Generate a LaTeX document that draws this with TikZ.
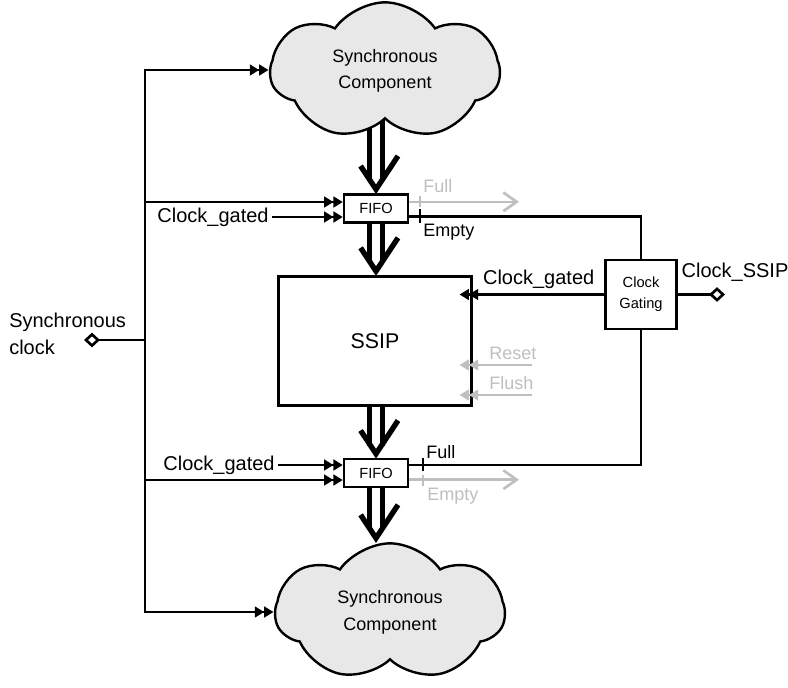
\documentclass[tikz,border=0pt]{standalone}
\usepackage{fontspec}
\setmainfont{Liberation Sans}
\usetikzlibrary{arrows.meta,shapes.symbols,backgrounds,decorations.markings}

\tikzset{
  wire/.style={line width=2pt,line cap=rect},
  clk/.style={wire,-{Triangle[length=7pt,width=8pt]Triangle[length=7pt,width=8pt]}},
  pin/.style={wire,-{Diamond[open,length=12pt,width=11pt]}},
  sigwire/.style={line width=2pt,gray!50},
  sigarrow/.style={sigwire,-{Straight Barb[length=10pt,width=14pt]}},
  sigclk/.style={sigwire,shorten >=-10pt,-{Triangle[length=7pt,width=8pt]Triangle[length=7pt,width=8pt]}},
  % wide data bus: double line closed by an open chevron
  bus/.style={double,line width=3.6pt,double distance=6pt,shorten >=9pt,
    postaction={decorate,decoration={markings,mark=at position 1 with
      {\draw[line width=4pt] (-28pt,16.5pt) -- (-3pt,0pt) -- (-28pt,-16.5pt);}}}},
  block/.style={draw,line width=1.8pt,fill=white},
  fifo/.style={block,minimum width=48pt,minimum height=21pt,font=\fontsize{11}{13}\selectfont},
  comp/.style={cloud,cloud puffs=7,cloud puff arc=110,aspect=1.7,draw,line width=1.8pt,
    fill=gray!18,minimum width=172pt,minimum height=103pt,align=center,
    font=\fontsize{13.5}{20}\selectfont},
  lbl/.style={font=\fontsize{15}{20}\selectfont},
  siglbl/.style={font=\fontsize{13.5}{16}\selectfont,inner sep=0pt,anchor=base west},
}

\begin{document}
\begin{tikzpicture}[x=0.75pt,y=0.75pt]
  \useasboundingbox (0,0) rectangle (788,-687);

  % Blocks
  \node[comp] (compT) at (385,-71) {Synchronous\\Component};
  \node[comp] (compB) at (390,-612) {Synchronous\\Component};
  \node[fifo] (fifoT) at (376,-208.5) {FIFO};
  \node[fifo] (fifoB) at (376,-473) {FIFO};
  \node[block,minimum width=145pt,minimum height=97pt,font=\fontsize{16}{19}\selectfont] (ssip) at (375,-341) {SSIP};
  \node[block,minimum width=53pt,minimum height=52pt,align=center,font=\fontsize{11}{15.5}\selectfont] (gate) at (641,-294.5) {Clock\\Gating};

  % Data path
  \begin{scope}[on background layer]
    \draw[bus] (fifoT.north |- compT.center) -- (fifoT.north);
    \draw[bus] (fifoB.south) -- (fifoB.south |- compB.north);
  \end{scope}
  \draw[bus] (fifoT.south) -- (fifoT.south |- ssip.north);
  \draw[bus] (ssip.south -| fifoB.north) -- (fifoB.north);

  % Synchronous clock tree
  \coordinate (busT) at (145,-70);
  \coordinate (busB) at (145,-612);
  \coordinate (busIn) at (145,-340);
  \coordinate (busF1) at (145,-202);
  \coordinate (busF2) at (145,-480);
  \coordinate (sclk) at (84,-340);
  \node[lbl,align=left,anchor=north west,inner sep=0pt] (sclkLbl) at (9,-313) {Synchronous\\clock};
  \draw[wire] (busT) -- (busB);
  \draw[pin] (busIn) -- (sclk);
  \draw[clk] (busT) -- (busT -| compT.west);
  \draw[clk] (busB) -- (busB -| compB.west);
  \draw[clk] (busF1) -- (busF1 -| fifoT.west);
  \draw[clk] (busF2) -- (busF2 -| fifoB.west);
  \node[lbl] (cgT) at (213,-217) {Clock\_gated};
  \draw[clk] (cgT.east) -- (cgT.east -| fifoT.west);
  \node[lbl] (cgB) at (219,-465) {Clock\_gated};
  \draw[clk] (cgB.east) -- (cgB.east -| fifoB.west);

  % Clock gating
  \draw[clk,shorten >=-10pt] (gate.west) -- (gate.west -| ssip.east) node[lbl,midway,above] (cgS) {Clock\_gated};
  \coordinate (sclkS) at (725,-294.5);
  \draw[pin] (gate.east) -- (sclkS);
  \node[lbl] (sclkSLbl) at (735,-272) {Clock\_SSIP};
  \draw[wire] ([yshift=-6pt]fifoT.east) -| (gate.north);
  \draw[wire] ([yshift=6pt]fifoB.east) -| (gate.south);

  % Status flags
  \coordinate (flagR) at (519,0);
  \draw[sigarrow] ([yshift=5pt]fifoT.east) -- ([yshift=5pt]fifoT.east -| flagR);
  \draw[sigarrow] ([yshift=-5pt]fifoB.east) -- ([yshift=-5pt]fifoB.east -| flagR);
  \draw[sigwire,line width=1.5pt] (420,-196) -- (420,-207);
  \draw[wire,line width=1.5pt] (420,-210) -- (420,-222);
  \draw[wire,line width=1.5pt] (423,-459) -- (423,-470);
  \draw[sigwire,line width=1.5pt] (423,-475) -- (423,-486);
  \node[siglbl,gray!50] (fullT) at (423,-192) {Full};
  \node[siglbl] (emptyT) at (423,-236) {Empty};
  \node[siglbl] (fullB) at (426,-458) {Full};
  \node[siglbl,gray!50] (emptyB) at (427,-500) {Empty};

  % Reset and flush
  \coordinate (rstIn) at (532,-365);
  \coordinate (flsIn) at (532,-395);
  \draw[sigclk] (rstIn) -- (rstIn -| ssip.east);
  \draw[sigclk] (flsIn) -- (flsIn -| ssip.east);
  \node[siglbl,gray!50] (rstLbl) at (489,-359) {Reset};
  \node[siglbl,gray!50] (flsLbl) at (489,-389) {Flush};
\end{tikzpicture}
\end{document}
